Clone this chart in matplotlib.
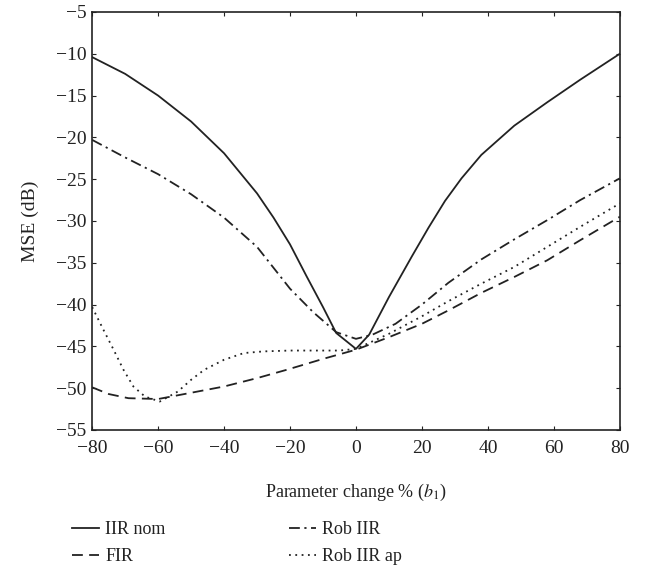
import matplotlib
matplotlib.use("Agg")
import matplotlib.pyplot as plt

plt.rcParams['font.family'] = ['Liberation Serif', 'DejaVu Serif']
plt.rcParams['mathtext.fontset'] = 'stix'

# x positions (% parameter change) and MSE, per curve
x_nom = [-80, -70, -60, -50, -40, -30, -25, -20, -15, -10, -6, 0, 4, 10, 17, 22, 27, 32, 38,
         48, 58, 68, 80]
mse_nom = [-10.4, -12.4, -15.0, -18.1, -21.9, -26.7, -29.6, -32.8, -36.6, -40.3, -43.4, -45.3,
           -43.6, -39.1, -34.2, -30.8, -27.6, -24.9, -22.1, -18.6, -15.8, -13.1, -10.0]

x_fir = [-80, -75, -69, -60, -52, -40, -30, -21, -10, 0, 10, 20, 28, 38, 48, 58, 68, 80]
mse_fir = [-49.9, -50.7, -51.2, -51.3, -50.7, -49.8, -48.8, -47.8, -46.5, -45.4,
           -43.9, -42.3, -40.7, -38.6, -36.7, -34.7, -32.3, -29.5]

x_rob = [-80, -70, -60, -50, -40, -30, -20, -13, -6, 0, 5, 12, 20, 28, 38, 48, 58, 68, 80]
mse_rob = [-20.3, -22.4, -24.4, -26.8, -29.6, -33.1, -38.1, -40.9, -43.3, -44.1,
           -43.6, -42.3, -40.0, -37.4, -34.6, -32.2, -29.9, -27.5, -24.9]

x_ap = [-80, -76.6, -73.5, -70.5, -67.5, -64, -59.5, -54, -50, -46, -40, -34, -28, -20, -10,
        -5, 0, 10, 20, 28, 38, 48, 58, 68, 80]
mse_ap = [-40.3, -43.0, -45.4, -47.8, -49.8, -51.0, -51.6, -50.4, -49.0, -47.8, -46.6, -45.8,
          -45.6, -45.5, -45.5, -45.5, -45.3, -43.5, -41.4, -39.6, -37.5, -35.5, -33.1, -30.7,
          -27.9]

xticks = [-80, -60, -40, -20, 0, 20, 40, 60, 80]
yticks = [-5, -10, -15, -20, -25, -30, -35, -40, -45, -50, -55]

col = '#222222'
fig = plt.figure(figsize=(6.49, 5.71), dpi=100)
ax = fig.add_axes([0.142, 0.247, 0.813, 0.732])

ax.plot(x_nom, mse_nom, '-', color=col, lw=1.3, label='IIR nom')
ax.plot(x_fir, mse_fir, color=col, lw=1.3, dashes=(6, 3.5), label='FIR')
ax.plot(x_rob, mse_rob, color=col, lw=1.3, dashes=(6, 2.5, 1.2, 2.5), label='Rob IIR')
ax.plot(x_ap, mse_ap, color=col, lw=1.3, dashes=(1, 2.5), label='Rob IIR ap')

ax.set_xlim(-80, 80)
ax.set_ylim(-55, -5)
ax.set_xticks(xticks)
ax.set_yticks(yticks)
ax.tick_params(direction='in', top=True, right=True, length=3, width=0.8,
               labelsize=14, colors=col, pad=7)
ax.tick_params(axis='y', pad=4)
for s in ax.spines.values():
    s.set_linewidth(1.2)
    s.set_color(col)

ax.set_xlabel('Parameter change % ($b_1$)', fontsize=13, color=col, labelpad=18)
ax.set_ylabel('MSE (dB)', fontsize=14, color=col, labelpad=12)

fig.legend(loc='lower left', bbox_to_anchor=(0.086, -0.018), ncol=2, frameon=False,
           fontsize=13, handlelength=1.5, handletextpad=0.35, columnspacing=6.8,
           labelspacing=0.55, labelcolor=col)

fig.savefig('out.png', dpi=100)
